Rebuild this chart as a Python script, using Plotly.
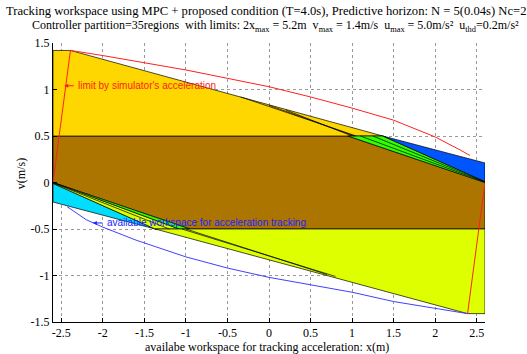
import plotly.graph_objects as go

# ---------------- data ----------------
x_ticks = [-2.5, -2, -1.5, -1, -0.5, 0, 0.5, 1, 1.5, 2, 2.5]
y_ticks = [-1.5, -1, -0.5, 0, 0.5, 1, 1.5]

brown_x = [-2.6, 0.95, 2.6, 2.6, -0.95, -2.6]
brown_y = [0.5, 0.5, 0.0, -0.5, -0.5, 0.0]

yellow_x = [-2.6, -2.6, -2.39, 1.37]
yellow_y = [0.5, 1.42, 1.42, 0.5]

green_up_x = [0.95, 1.37, 2.6, 2.6]
green_up_y = [0.5, 0.5, 0.01, 0.0]

blue_x = [1.37, 2.6, 2.6]
blue_y = [0.5, 0.21, 0.01]

cyan_x = [-1.37, -2.6, -2.6]
cyan_y = [-0.5, -0.21, -0.01]

ygreen_wedge_x = [-1.08, -1.37, -2.6, -2.6]
ygreen_wedge_y = [-0.5, -0.5, -0.01, 0.0]

green_lo_x = [-2.6, -0.95, -1.08]
green_lo_y = [0.0, -0.5, -0.5]

ygreen_x = [2.6, 2.6, 2.39, -1.37]
ygreen_y = [-0.5, -1.41, -1.41, -0.5]

inner_lines = [
    ([-0.34, 1.05], [0.92, 0.5]),
    ([0.0, 1.03], [0.83, 0.5]),
    ([0.2, 1.0], [0.78, 0.5]),
    ([1.1, 2.6], [0.5, 0.004]),
    ([1.25, 2.6], [0.5, 0.007]),
    ([-1.05, 0.8], [-0.5, -1.01]),
    ([-1.0, 0.7], [-0.5, -0.99]),
    ([-2.6, -1.2], [-0.005, -0.5]),
]

red_curve_x = [-2.6, -2.39, -2.0, -1.5, -1.0, -0.5, 0.0, 0.5, 1.0, 1.5, 2.0, 2.3, 2.42]
red_curve_y = [0.0, 1.42, 1.365, 1.29, 1.21, 1.12, 1.03, 0.92, 0.80, 0.67, 0.49, 0.35, 0.29]

red_line_x = [2.6, 2.39]
red_line_y = [0.0, -1.41]

blue_curve_x = [-2.43, -2.2, -2.0, -1.6, -1.0, -0.5, 0.0, 0.5, 1.0, 1.5, 2.0, 2.39]
blue_curve_y = [-0.26, -0.40, -0.48, -0.62, -0.80, -0.92, -1.02, -1.10, -1.18, -1.28, -1.35, -1.41]

title1 = "Tracking workspace using MPC + proposed condition (T=4.0s), Predictive horizon: N = 5(0.04s) Nc=2"
title2 = ("Controller partition=35regions  with limits: 2x<sub>max</sub> = 5.2m  v<sub>max</sub> = 1.4m/s  "
          "u<sub>max</sub> = 5.0m/s²  u<sub>thd</sub>=0.2m/s²")
xlabel = "availabe workspace for tracking acceleration: x(m)"
ylabel = "v(m/s)"
red_label = "limit by simulator's acceleration"
blue_label = "available workspace for acceleration tracking"
red_tip = (-2.465, 1.04)
blue_tip = (-2.12, -0.435)

# ---------------- figure ----------------
SERIF = "Liberation Serif, Times New Roman, serif"
SANS = "Liberation Sans, Arial, sans-serif"
RED_TXT = "#FF1A1A"
BLUE_TXT = "#2222FF"

fig = go.Figure()

def patch(xs, ys, color):
    fig.add_trace(go.Scatter(x=xs + [xs[0]], y=ys + [ys[0]], mode="lines", fill="toself",
                             fillcolor=color, line=dict(color="black", width=0.7),
                             hoverinfo="skip", showlegend=False))

patch(brown_x, brown_y, "#AB7500")
patch(yellow_x, yellow_y, "#FFD700")
patch(green_up_x, green_up_y, "#33FF00")
patch(blue_x, blue_y, "#0055FF")
patch(cyan_x, cyan_y, "#00DDFF")
patch(ygreen_wedge_x, ygreen_wedge_y, "#DDFF00")
patch(green_lo_x, green_lo_y, "#33FF00")
patch(ygreen_x, ygreen_y, "#DDFF00")

for lx, ly in inner_lines:
    fig.add_trace(go.Scatter(x=lx, y=ly, mode="lines", line=dict(color="black", width=0.7),
                             hoverinfo="skip", showlegend=False))

fig.add_trace(go.Scatter(x=red_curve_x, y=red_curve_y, mode="lines",
                         line=dict(color="#FF2020", width=1), showlegend=False))
fig.add_trace(go.Scatter(x=red_line_x, y=red_line_y, mode="lines",
                         line=dict(color="#FF2020", width=1), showlegend=False))
fig.add_trace(go.Scatter(x=blue_curve_x, y=blue_curve_y, mode="lines",
                         line=dict(color="#4040FF", width=1), showlegend=False))

for tip, label, col in [(red_tip, red_label, RED_TXT), (blue_tip, blue_label, BLUE_TXT)]:
    # arrow pointing left
    fig.add_annotation(x=tip[0], y=tip[1], xref="x", yref="y", ax=11, ay=0, axref="pixel", ayref="pixel",
                       text="", showarrow=True, arrowhead=2, arrowsize=0.8, arrowwidth=1, arrowcolor=col)
    fig.add_annotation(x=tip[0], y=tip[1], xref="x", yref="y", xshift=12, text=label, showarrow=False,
                       xanchor="left", yanchor="middle", font=dict(family=SANS, size=10, color=col))

fig.add_annotation(x=0.493, y=1.115, xref="paper", yref="paper", text=title1, showarrow=False,
                   xanchor="center", yanchor="middle", font=dict(family=SERIF, size=12.6, color="black"))
fig.add_annotation(x=0.515, y=1.06, xref="paper", yref="paper", text=title2, showarrow=False,
                   xanchor="center", yanchor="middle", font=dict(family=SERIF, size=12, color="black"))
fig.add_annotation(x=0.495, y=-0.09, xref="paper", yref="paper", text=xlabel, showarrow=False,
                   xanchor="center", yanchor="middle", font=dict(family=SERIF, size=12, color="black"))
fig.add_annotation(x=-0.074, y=0.53, xref="paper", yref="paper", text=ylabel, showarrow=False,
                   textangle=-90, xanchor="center", yanchor="middle",
                   font=dict(family=SERIF, size=12, color="black"))

axis_common = dict(showgrid=True, gridcolor="#999999", griddash="dot", gridwidth=1,
                   zeroline=False, showline=True, linecolor="black", linewidth=1,
                   ticks="inside", ticklen=4, tickcolor="black", mirror=False,
                   tickfont=dict(family=SERIF, size=12, color="black"))

fig.update_layout(
    width=527, height=354,
    margin=dict(l=53, r=42, t=43, b=32),
    paper_bgcolor="white", plot_bgcolor="white",
    xaxis=dict(range=[-2.6, 2.6], tickvals=x_ticks, ticktext=[f"{v:g}" for v in x_ticks], **axis_common),
    yaxis=dict(range=[-1.5, 1.5], tickvals=y_ticks, ticktext=[f"{v:g}" for v in y_ticks], **axis_common),
    showlegend=False,
)

fig.write_html("out.html")
